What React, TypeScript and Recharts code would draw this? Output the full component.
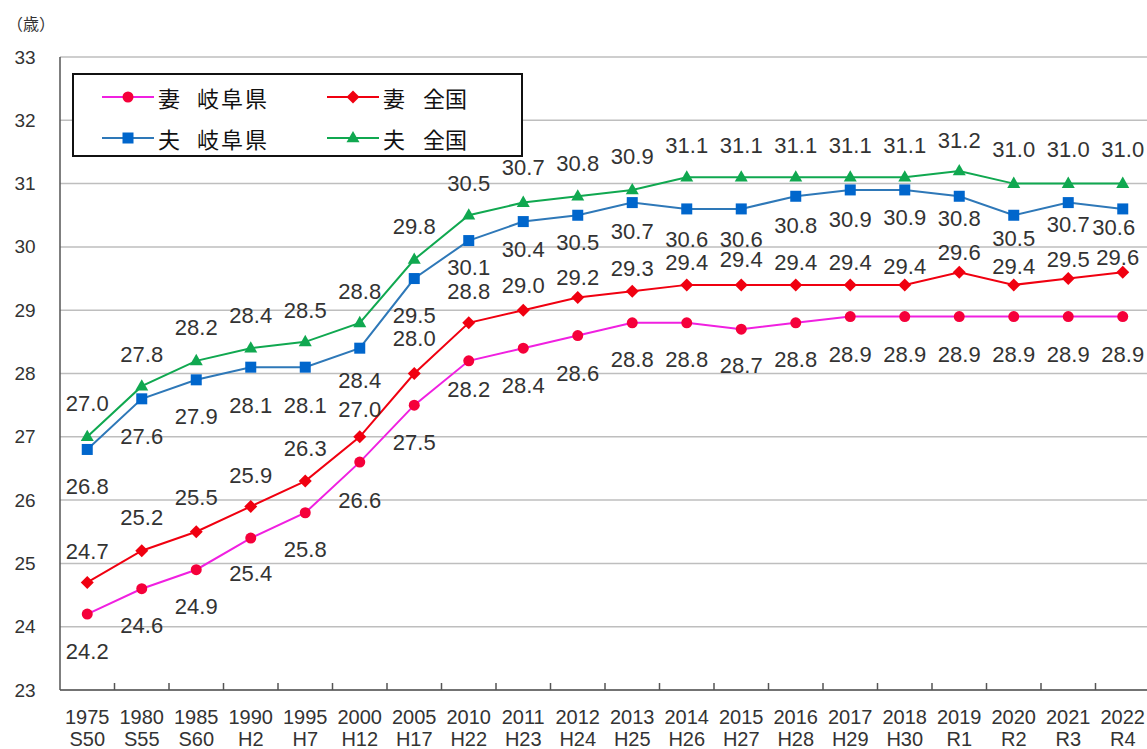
import React from 'react';
import {
  LineChart,
  Line,
  XAxis,
  YAxis,
  CartesianGrid,
  Legend,
  LabelList,
} from 'recharts';

// 平均初婚年齢（岐阜県・全国）
const years = [
  '1975', '1980', '1985', '1990', '1995', '2000', '2005', '2010', '2011', '2012',
  '2013', '2014', '2015', '2016', '2017', '2018', '2019', '2020', '2021', '2022',
];
const eras = [
  'S50', 'S55', 'S60', 'H2', 'H7', 'H12', 'H17', 'H22', 'H23', 'H24',
  'H25', 'H26', 'H27', 'H28', 'H29', 'H30', 'R1', 'R2', 'R3', 'R4',
];
const wifeGifu = [
  24.2, 24.6, 24.9, 25.4, 25.8, 26.6, 27.5, 28.2, 28.4, 28.6,
  28.8, 28.8, 28.7, 28.8, 28.9, 28.9, 28.9, 28.9, 28.9, 28.9,
];
const wifeJapan = [
  24.7, 25.2, 25.5, 25.9, 26.3, 27.0, 28.0, 28.8, 29.0, 29.2,
  29.3, 29.4, 29.4, 29.4, 29.4, 29.4, 29.6, 29.4, 29.5, 29.6,
];
const husbandGifu = [
  26.8, 27.6, 27.9, 28.1, 28.1, 28.4, 29.5, 30.1, 30.4, 30.5,
  30.7, 30.6, 30.6, 30.8, 30.9, 30.9, 30.8, 30.5, 30.7, 30.6,
];
const husbandJapan = [
  27.0, 27.8, 28.2, 28.4, 28.5, 28.8, 29.8, 30.5, 30.7, 30.8,
  30.9, 31.1, 31.1, 31.1, 31.1, 31.1, 31.2, 31.0, 31.0, 31.0,
];
const yTicks = [23, 24, 25, 26, 27, 28, 29, 30, 31, 32, 33];

// label offsets from each point (px), as placed in the original
const wifeGifuDy = [37, 37, 37, 35, 37, 38, 37, 29, 37, 38, 37, 37, 36, 37, 38, 38, 38, 38, 38, 38];
const wifeJapanDy = [-31, -33, -34, -31, -33, -27, -35, -31, -25, -20, -23, -22, -25, -22, -22, -18, -20, -18, -19, -15];
const husbandGifuDy = [37, 38, 37, 38, 38, 32, 37, 27, 28, 27, 29, 31, 31, 29, 30, 28, 22, 23, 22, 19];
const husbandJapanDy = [-33, -32, -33, -33, -31, -31, -33, -32, -35, -33, -33, -32, -32, -32, -32, -32, -30, -34, -34, -34];
const husbandGifuDx: Record<number, number> = { 19: -9 };
const wifeJapanDx: Record<number, number> = { 19: -5 };

const data = years.map((year, i) => ({
  year,
  era: eras[i],
  wifeGifu: wifeGifu[i],
  wifeJapan: wifeJapan[i],
  husbandGifu: husbandGifu[i],
  husbandJapan: husbandJapan[i],
}));

const WIDTH = 1150;
const HEIGHT = 749;
const Y_AXIS_W = 60;
const BAND = (WIDTH - Y_AXIS_W) / years.length;

const NUM_FONT = '"Liberation Sans", Arial, sans-serif';
const JP_FONT = '"Noto Sans CJK JP", sans-serif';

const C_WIFE_GIFU_LINE = '#F020E0';
const C_WIFE_GIFU_DOT = '#F5003A';
const C_WIFE_JAPAN = '#F00010';
const C_HUS_GIFU_LINE = '#2E78B8';
const C_HUS_GIFU_DOT = '#0066CC';
const C_HUS_JAPAN = '#10A850';

const circleDot = (r: number, fill: string) => (props: any) => {
  const { cx, cy, index } = props;
  return <circle key={`c${index}`} cx={cx} cy={cy} r={r} fill={fill} />;
};

const diamondDot = (s: number, fill: string) => (props: any) => {
  const { cx, cy, index } = props;
  return (
    <polygon
      key={`d${index}`}
      points={`${cx},${cy - s} ${cx + s},${cy} ${cx},${cy + s} ${cx - s},${cy}`}
      fill={fill}
    />
  );
};

const squareDot = (s: number, fill: string) => (props: any) => {
  const { cx, cy, index } = props;
  return <rect key={`s${index}`} x={cx - s / 2} y={cy - s / 2} width={s} height={s} fill={fill} />;
};

const triangleDot = (s: number, fill: string) => (props: any) => {
  const { cx, cy, index } = props;
  const h = s * 0.87;
  return (
    <polygon
      key={`t${index}`}
      points={`${cx},${cy - h * 0.62} ${cx + s / 2},${cy + h * 0.38} ${cx - s / 2},${cy + h * 0.38}`}
      fill={fill}
    />
  );
};

const makeLabel = (dys: number[], dxs: Record<number, number> = {}) => (props: any) => {
  const { x, y, value, index } = props;
  return (
    <text
      x={x + (dxs[index] ?? 0)}
      y={y + (dys[index] ?? 0)}
      textAnchor="middle"
      dominantBaseline="central"
      fontSize={22}
      fontFamily={NUM_FONT}
      fill="#333"
    >
      {Number(value).toFixed(1)}
    </text>
  );
};

const XTick = (props: any) => {
  const { x, y, payload, index } = props;
  const era = eras[index] ?? data.find((d) => d.year === payload.value)?.era;
  return (
    <g>
      {index > 0 && (
        <line x1={x - BAND / 2} x2={x - BAND / 2} y1={y} y2={y - 7} stroke="#555" strokeWidth={1.5} />
      )}
      <text x={x} y={y + 27} textAnchor="middle" dominantBaseline="central" fontSize={20} fontFamily={NUM_FONT} fill="#333">
        {payload.value}
      </text>
      <text x={x} y={y + 49} textAnchor="middle" dominantBaseline="central" fontSize={20} fontFamily={NUM_FONT} fill="#333">
        {era}
      </text>
    </g>
  );
};

const YTick = (props: any) => {
  const { y, payload } = props;
  return (
    <text x={25} y={y} textAnchor="middle" dominantBaseline="central" fontSize={19} fontFamily={NUM_FONT} fill="#333">
      {payload.value}
    </text>
  );
};

const UnitLabel = () => (
  <text x={31} y={23} textAnchor="middle" dominantBaseline="central" fontSize={16} fontFamily={JP_FONT} fill="#333">
    （歳）
  </text>
);

const legendItems = [
  { col: 0, row: 0, who: '妻', area: '岐阜県', line: C_WIFE_GIFU_LINE, dot: circleDot(5.5, C_WIFE_GIFU_DOT) },
  { col: 1, row: 0, who: '妻', area: '全国', line: C_WIFE_JAPAN, dot: diamondDot(6.5, C_WIFE_JAPAN) },
  { col: 0, row: 1, who: '夫', area: '岐阜県', line: C_HUS_GIFU_LINE, dot: squareDot(11, C_HUS_GIFU_DOT) },
  { col: 1, row: 1, who: '夫', area: '全国', line: C_HUS_JAPAN, dot: triangleDot(13, C_HUS_JAPAN) },
];

const renderLegend = () => (
  <div
    style={{
      width: 451,
      height: 84,
      boxSizing: 'border-box',
      border: '2px solid #111',
      background: '#fff',
    }}
  >
    <svg width={447} height={80}>
      {legendItems.map((it, i) => {
        const x0 = it.col === 0 ? 28 : 253;
        const cy = it.row === 0 ? 22 : 63;
        return (
          <g key={i}>
            <line x1={x0} x2={x0 + 52} y1={cy} y2={cy} stroke={it.line} strokeWidth={2} />
            {it.dot({ cx: x0 + 26, cy, index: i })}
            <text x={x0 + 56} y={cy} dominantBaseline="central" fontSize={22} fontFamily={JP_FONT} fill="#111">
              {it.who}
            </text>
            <text
              x={x0 + (it.col === 0 ? 95 : 96)}
              y={cy}
              dominantBaseline="central"
              fontSize={22}
              fontFamily={JP_FONT}
              fill="#111"
              letterSpacing={it.col === 0 ? 2 : 0}
            >
              {it.area}
            </text>
          </g>
        );
      })}
    </svg>
  </div>
);

export default function App() {
  return (
    <div
      style={{
        position: 'absolute',
        left: 0,
        top: 0,
        width: 1147,
        height: 749,
        overflow: 'hidden',
        background: '#fff',
      }}
    >
      <LineChart width={WIDTH} height={HEIGHT} data={data} margin={{ top: 57, right: 0, left: 0, bottom: 0 }}>
        <CartesianGrid vertical={false} stroke="#BEBEBE" strokeWidth={1.5} />
        <XAxis
          dataKey="year"
          scale="band"
          height={59}
          interval={0}
          tickLine={false}
          tickSize={0}
          tickMargin={0}
          axisLine={{ stroke: '#555', strokeWidth: 1.5 }}
          tick={<XTick />}
        />
        <YAxis
          width={Y_AXIS_W}
          domain={[23, 33]}
          ticks={yTicks}
          interval={0}
          tickLine={false}
          axisLine={{ stroke: '#555', strokeWidth: 1.5 }}
          tick={<YTick />}
          label={UnitLabel}
        />
        <Legend
          layout="horizontal"
          verticalAlign="middle"
          align="center"
          content={renderLegend}
          wrapperStyle={{ left: 72, top: 73, width: 451, height: 84 }}
        />
        <Line
          dataKey="wifeGifu"
          stroke={C_WIFE_GIFU_LINE}
          strokeWidth={2}
          dot={circleDot(5.5, C_WIFE_GIFU_DOT)}
          activeDot={false}
          isAnimationActive={false}
        >
          <LabelList dataKey="wifeGifu" content={makeLabel(wifeGifuDy)} />
        </Line>
        <Line
          dataKey="wifeJapan"
          stroke={C_WIFE_JAPAN}
          strokeWidth={2}
          dot={diamondDot(6.5, C_WIFE_JAPAN)}
          activeDot={false}
          isAnimationActive={false}
        >
          <LabelList dataKey="wifeJapan" content={makeLabel(wifeJapanDy, wifeJapanDx)} />
        </Line>
        <Line
          dataKey="husbandGifu"
          stroke={C_HUS_GIFU_LINE}
          strokeWidth={2}
          dot={squareDot(11, C_HUS_GIFU_DOT)}
          activeDot={false}
          isAnimationActive={false}
        >
          <LabelList dataKey="husbandGifu" content={makeLabel(husbandGifuDy, husbandGifuDx)} />
        </Line>
        <Line
          dataKey="husbandJapan"
          stroke={C_HUS_JAPAN}
          strokeWidth={2}
          dot={triangleDot(13, C_HUS_JAPAN)}
          activeDot={false}
          isAnimationActive={false}
        >
          <LabelList dataKey="husbandJapan" content={makeLabel(husbandJapanDy)} />
        </Line>
      </LineChart>
    </div>
  );
}
